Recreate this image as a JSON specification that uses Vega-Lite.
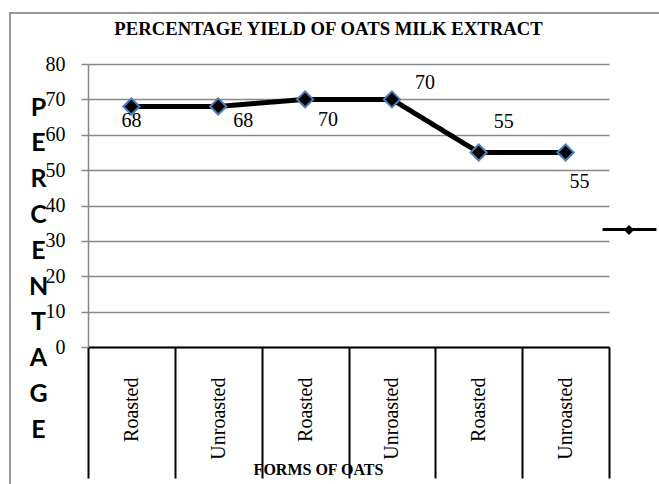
{
  "$schema": "https://vega.github.io/schema/vega-lite/v6.json",
  "autosize": "none",
  "width": 521,
  "height": 283,
  "padding": {"left": 88, "top": 64, "right": 50, "bottom": 137},
  "background": "white",
  "title": {
    "text": "PERCENTAGE YIELD OF OATS MILK EXTRACT",
    "font": "Liberation Serif",
    "fontSize": 18.7,
    "fontWeight": "bold",
    "color": "black",
    "anchor": "middle",
    "frame": "group",
    "dx": -20,
    "offset": -27
  },
  "data": {
    "values": [
      {"k": "Roasted|1", "v": 68},
      {"k": "Unroasted|2", "v": 68},
      {"k": "Roasted|3", "v": 70},
      {"k": "Unroasted|4", "v": 70},
      {"k": "Roasted|5", "v": 55},
      {"k": "Unroasted|6", "v": 55}
    ]
  },
  "encoding": {
    "x": {
      "field": "k",
      "type": "nominal",
      "sort": null,
      "scale": {"paddingInner": 0, "paddingOuter": 0},
      "axis": {
        "title": "FORMS OF OATS",
        "titleFont": "Liberation Serif",
        "titleFontSize": 16,
        "titleFontWeight": "bold",
        "titleColor": "black",
        "titleX": 230,
        "titleY": 122,
        "titleAlign": "center",
        "titleBaseline": "middle",
        "labelExpr": "split(datum.label, '|')[0]",
        "labelAngle": 270,
        "labelFont": "Liberation Serif",
        "labelFontSize": 20,
        "labelColor": "black",
        "labelPadding": -101,
        "tickBand": "extent",
        "tickSize": 131,
        "tickColor": "black",
        "tickWidth": 2,
        "domainColor": "black",
        "domainWidth": 2,
        "grid": false
      }
    },
    "y": {
      "field": "v",
      "type": "quantitative",
      "scale": {"domain": [0, 80]},
      "axis": {
        "values": [0, 10, 20, 30, 40, 50, 60, 70, 80],
        "title": ["P", "E", "R", "C", "E", "N", "T", "A", "G", "E"],
        "titleFont": "Lato",
        "titleFontSize": 25,
        "titleFontWeight": "bold",
        "titleColor": "black",
        "titleAngle": 0,
        "titleAlign": "center",
        "titleBaseline": "alphabetic",
        "titleLineHeight": 35.8,
        "titleX": -50,
        "titleY": 51,
        "labelFont": "Liberation Serif",
        "labelFontSize": 20,
        "labelColor": "black",
        "labelPadding": 16,
        "tickSize": 7,
        "tickColor": "#888888",
        "tickWidth": 1.5,
        "domainColor": "#888888",
        "domainWidth": 1.5,
        "grid": true,
        "gridColor": "#888888",
        "gridWidth": 1.5
      }
    }
  },
  "layer": [
    {
      "mark": {"type": "line", "strokeWidth": 5},
      "encoding": {
        "color": {
          "datum": "A",
          "scale": {"range": ["black"]},
          "legend": {
            "orient": "none",
            "legendX": 513,
            "legendY": 137,
            "title": null,
            "symbolType": "stroke",
            "symbolStrokeWidth": 3,
            "symbolSize": 2900,
            "labelExpr": "''",
            "padding": 0,
            "zindex": 1
          }
        },
        "strokeDash": {
          "datum": "C",
          "scale": {"range": [[1, 0]]},
          "legend": {
            "orient": "none",
            "legendX": -78,
            "legendY": -51,
            "title": null,
            "labelExpr": "''",
            "padding": 800,
            "strokeColor": "#999999",
            "zindex": 0
          }
        }
      }
    },
    {
      "mark": {"type": "point", "filled": true, "fill": "black", "stroke": "#4a7ebb", "strokeWidth": 2, "size": 260, "opacity": 1},
      "encoding": {
        "shape": {
          "datum": "B",
          "scale": {"range": ["diamond"]},
          "legend": {
            "orient": "none",
            "legendX": 535,
            "legendY": 160,
            "title": null,
            "symbolFillColor": "black",
            "symbolStrokeColor": "#4a7ebb",
            "symbolStrokeWidth": 1.5,
            "symbolSize": 100,
            "symbolOpacity": 1,
            "labelExpr": "''",
            "padding": 0,
            "zindex": 2
          }
        }
      }
    },
    {
      "transform": [{"filter": "datum.k == 'Roasted|1'"}],
      "mark": {"type": "text", "font": "Liberation Serif", "fontSize": 20, "color": "black", "dx": 0, "dy": 15},
      "encoding": {"text": {"field": "v"}}
    },
    {
      "transform": [{"filter": "datum.k == 'Unroasted|2'"}],
      "mark": {"type": "text", "font": "Liberation Serif", "fontSize": 20, "color": "black", "dx": 25, "dy": 15},
      "encoding": {"text": {"field": "v"}}
    },
    {
      "transform": [{"filter": "datum.k == 'Roasted|3'"}],
      "mark": {"type": "text", "font": "Liberation Serif", "fontSize": 20, "color": "black", "dx": 23, "dy": 21},
      "encoding": {"text": {"field": "v"}}
    },
    {
      "transform": [{"filter": "datum.k == 'Unroasted|4'"}],
      "mark": {"type": "text", "font": "Liberation Serif", "fontSize": 20, "color": "black", "dx": 33, "dy": -16},
      "encoding": {"text": {"field": "v"}}
    },
    {
      "transform": [{"filter": "datum.k == 'Roasted|5'"}],
      "mark": {"type": "text", "font": "Liberation Serif", "fontSize": 20, "color": "black", "dx": 25, "dy": -30},
      "encoding": {"text": {"field": "v"}}
    },
    {
      "transform": [{"filter": "datum.k == 'Unroasted|6'"}],
      "mark": {"type": "text", "font": "Liberation Serif", "fontSize": 20, "color": "black", "dx": 14, "dy": 30},
      "encoding": {"text": {"field": "v"}}
    }
  ],
  "config": {
    "view": {"stroke": null},
    "legend": {"symbolLimit": 1, "strokeWidth": 2}
  }
}
